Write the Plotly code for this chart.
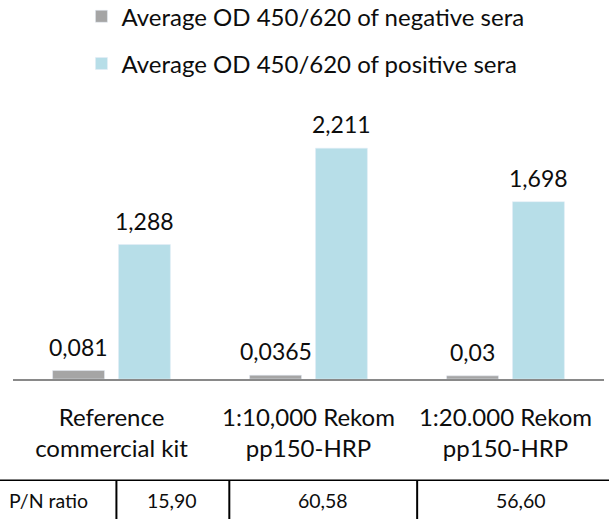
import plotly.graph_objects as go

# ---- data ----
categories = ["Reference<br>commercial kit", "1:10,000 Rekom<br>pp150-HRP", "1:20.000 Rekom<br>pp150-HRP"]
neg_name = "Average OD 450/620 of negative sera"
pos_name = "Average OD 450/620 of positive sera"
neg_values = [0.081, 0.0365, 0.03]
pos_values = [1.288, 2.211, 1.698]
table_header = "P/N ratio"
pn_ratio = [15.90, 60.58, 56.60]

# ---- styling / geometry ----
W, H = 609, 519
L, R, T, B = 12.5, 5, 90, 139.5
PW, PH = W - L - R, H - T - B
FONT = "Lato"
TXT = "#0d0d0d"
GRAY = "#a5a5a5"
BLUE = "#b7dee8"


def fx(px):
    return (px - L) / PW


def fy(py):
    return (H - B - py) / PH


def dec(v, fmt="g"):
    return format(v, fmt).replace(".", ",")


fig = go.Figure()
fig.add_trace(go.Bar(x=categories, y=neg_values, name=neg_name, marker_color=GRAY,
                     legendgroup="neg", hoverinfo="skip"))
fig.add_trace(go.Bar(x=categories, y=pos_values, name=pos_name, marker_color=BLUE,
                     legendgroup="pos", hoverinfo="skip"))

annotations = []
for i, v in enumerate(neg_values):
    annotations.append(dict(x=i, y=v, xref="x", yref="y", text=dec(v), showarrow=False,
                            xshift=-33, yshift=24, yanchor="middle",
                            font=dict(family=FONT, size=23, color=TXT)))
for i, v in enumerate(pos_values):
    annotations.append(dict(x=i, y=v, xref="x", yref="y", text=dec(v), showarrow=False,
                            xshift=33, yshift=24, yanchor="middle",
                            font=dict(family=FONT, size=23, color=TXT)))

# table below chart
col_centers = [48, 172, 323, 521]
table_texts = [table_header] + [dec(v, ".2f") for v in pn_ratio]
for cx, t in zip(col_centers, table_texts):
    annotations.append(dict(x=fx(cx), y=fy(501), xref="paper", yref="paper", text=t,
                            showarrow=False, xanchor="center", yanchor="middle",
                            font=dict(family=FONT, size=19.5, color=TXT)))

shapes = [dict(type="line", xref="paper", yref="paper", x0=fx(-2), x1=fx(W + 2), y0=fy(481), y1=fy(481),
               line=dict(color="#000", width=1.5))]
for vx in [116, 229, 417]:
    shapes.append(dict(type="line", xref="paper", yref="paper", x0=fx(vx), x1=fx(vx),
                       y0=fy(481), y1=fy(H + 2), line=dict(color="#000", width=2)))

fig.update_layout(
    width=W, height=H,
    margin=dict(l=L, r=R, t=T, b=B, autoexpand=False),
    paper_bgcolor="white", plot_bgcolor="white",
    separators=",.",
    barmode="group", bargap=0.331, bargroupgap=0.212,
    showlegend=True,
    legend=dict(xref="paper", yref="paper", x=fx(81), y=fy(-6),
                xanchor="left", yanchor="top", orientation="v",
                font=dict(family=FONT, size=24, color=TXT),
                tracegroupgap=13, itemwidth=30, bgcolor="rgba(0,0,0,0)"),
    xaxis=dict(type="category", showline=True, linecolor="#898989", linewidth=2,
               ticks="", showgrid=False, zeroline=False, ticklabelstandoff=16,
               tickfont=dict(family=FONT, size=24, color=TXT)),
    yaxis=dict(visible=False, range=[0, 2.768], showgrid=False, zeroline=False),
    annotations=annotations,
    shapes=shapes,
)

fig.write_html("out.html", config={"displayModeBar": False},
               post_script="document.body.style.margin='0px';document.body.style.overflow='hidden';")
